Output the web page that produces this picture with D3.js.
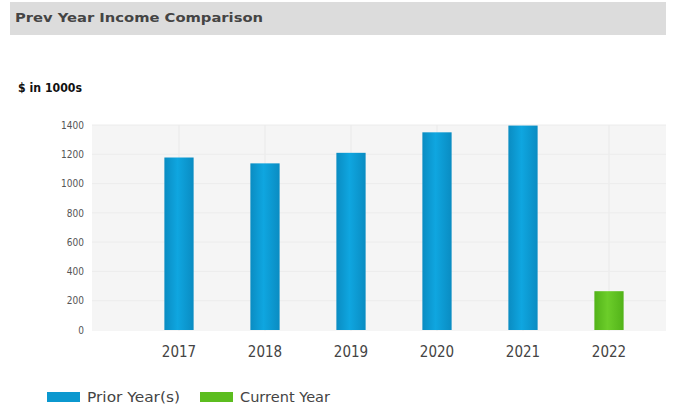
<!DOCTYPE html>
<html lang="en">
<head>
    <meta charset="UTF-8">
    <title>Prev Year Income Comparison</title>
    <script src="https://d3js.org/d3.v7.min.js"></script>
    <style>
        body { margin: 0; background: #fff; }
        .tick text { font-family: "DejaVu Sans Condensed", "DejaVu Sans", sans-serif; }
    </style>
</head>
<body>
    <svg width="673" height="415"></svg>
    <script>
        // chart data
        const years = ["2017", "2018", "2019", "2020", "2021", "2022"];
        const income = [1178, 1138, 1210, 1350, 1396, 265];
        const series = ["Prior Year(s)", "Prior Year(s)", "Prior Year(s)", "Prior Year(s)", "Prior Year(s)", "Current Year"];
        const yTicks = [0, 200, 400, 600, 800, 1000, 1200, 1400];
        const legendLabels = ["Prior Year(s)", "Current Year"];

        const colors = { "Prior Year(s)": "url(#gBlue)", "Current Year": "url(#gGreen)" };
        const swatch = { "Prior Year(s)": "#0b98cf", "Current Year": "#5cbd1f" };

        const svg = d3.select("svg");

        // gradients for the bars (darker edges, lighter middle)
        const defs = svg.append("defs");
        function grad(id, edge, mid) {
            const g = defs.append("linearGradient").attr("id", id)
                .attr("x1", "0%").attr("x2", "100%").attr("y1", "0%").attr("y2", "0%");
            g.append("stop").attr("offset", "0%").attr("stop-color", edge);
            g.append("stop").attr("offset", "45%").attr("stop-color", mid);
            g.append("stop").attr("offset", "100%").attr("stop-color", edge);
        }
        grad("gBlue", "#0a8cc2", "#0fa6e0");
        grad("gGreen", "#52b319", "#6ccd2a");

        // header bar
        svg.append("rect")
            .attr("x", 10).attr("y", 2).attr("width", 656).attr("height", 33)
            .attr("fill", "#dcdcdc");
        svg.append("text")
            .attr("x", 15).attr("y", 22)
            .attr("font-family", "'DejaVu Sans', sans-serif")
            .attr("font-weight", "bold")
            .attr("font-size", 12)
            .attr("fill", "#444")
            .attr("textLength", 248)
            .attr("lengthAdjust", "spacingAndGlyphs")
            .text("Prev Year Income Comparison");

        svg.append("text")
            .attr("x", 18).attr("y", 92)
            .attr("font-family", "'DejaVu Sans', sans-serif")
            .attr("font-weight", "bold")
            .attr("font-size", 12)
            .attr("fill", "#111")
            .attr("textLength", 64)
            .attr("lengthAdjust", "spacingAndGlyphs")
            .text("$ in 1000s");

        // plot area
        const plot = { left: 92, right: 666, top: 125, bottom: 331 };

        const y = d3.scaleLinear().domain([0, 1400]).range([330, 125]);
        const x = d3.scaleBand().domain(years).range([136, 652]).paddingInner(0.66).paddingOuter(0.33);

        svg.append("rect")
            .attr("x", plot.left).attr("y", plot.top)
            .attr("width", plot.right - plot.left).attr("height", plot.bottom - plot.top)
            .attr("fill", "#f5f5f5");

        // horizontal grid
        svg.append("g").selectAll("line")
            .data(yTicks.slice(1))
            .join("line")
            .attr("x1", plot.left).attr("x2", plot.right)
            .attr("y1", d => y(d)).attr("y2", d => y(d))
            .attr("stroke", "#ececec").attr("stroke-width", 1);

        // vertical grid at bar centres
        svg.append("g").selectAll("line")
            .data(years)
            .join("line")
            .attr("x1", d => x(d) + x.bandwidth() / 2).attr("x2", d => x(d) + x.bandwidth() / 2)
            .attr("y1", plot.top).attr("y2", plot.bottom)
            .attr("stroke", "#ececec").attr("stroke-width", 1.5);

        // bars
        svg.append("g").selectAll("rect")
            .data(years)
            .join("rect")
            .attr("x", d => x(d))
            .attr("width", x.bandwidth())
            .attr("y", (d, i) => y(income[i]))
            .attr("height", (d, i) => y(0) - y(income[i]))
            .attr("fill", (d, i) => colors[series[i]]);

        // y axis
        const yAxis = svg.append("g")
            .attr("transform", "translate(84,0)")
            .call(d3.axisLeft(y).tickValues(yTicks).tickFormat(d3.format("d")).tickSize(0).tickPadding(0));
        yAxis.select(".domain").remove();
        yAxis.selectAll("text").attr("font-size", 10).attr("fill", "#555");

        // x axis
        const xAxis = svg.append("g")
            .attr("transform", "translate(0,346)")
            .call(d3.axisBottom(x).tickSize(0).tickPadding(0));
        xAxis.select(".domain").remove();
        xAxis.selectAll("text")
            .attr("font-family", "'DejaVu Sans', sans-serif")
            .attr("font-size", 15).attr("fill", "#444");

        // legend
        const legendX = [47, 200];
        const legendW = [93, 90];
        const leg = svg.append("g").selectAll("g")
            .data(legendLabels)
            .join("g")
            .attr("transform", (d, i) => `translate(${legendX[i]},388)`);
        leg.append("rect")
            .attr("width", 33).attr("height", 10).attr("y", 4)
            .attr("fill", d => swatch[d]);
        leg.append("text")
            .attr("x", 40).attr("y", 14)
            .attr("font-family", "'DejaVu Sans', sans-serif")
            .attr("font-size", 13.5).attr("fill", "#444")
            .attr("textLength", (d, i) => legendW[i])
            .attr("lengthAdjust", "spacingAndGlyphs")
            .text(d => d);
    </script>
</body>
</html>
